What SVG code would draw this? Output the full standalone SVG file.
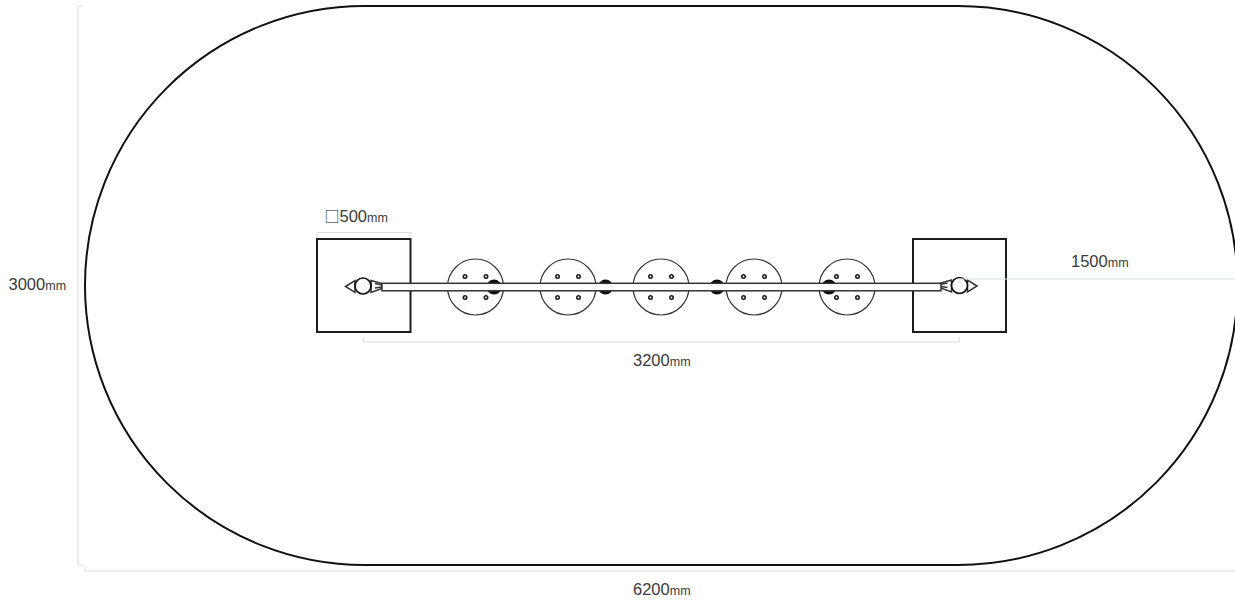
<svg xmlns="http://www.w3.org/2000/svg" width="1235" height="600" viewBox="0 0 1235 600">
<style>
text{font-family:"Liberation Sans",Arial,"Noto Sans CJK JP",sans-serif;font-size:16.5px;fill:#3a3a3a}
.u{font-size:12.5px}
.sq{font-family:"Noto Sans CJK JP","Liberation Sans",sans-serif;font-size:15px;fill:#222}
.dim{fill:none;stroke:#dcdedd;stroke-width:1.1}
.pad{fill:#fff;stroke:#1c1c1c;stroke-width:2}
.disc{fill:#fff;stroke:#333;stroke-width:1.2}
.hole{fill:#fff;stroke:#1c1c1c;stroke-width:1.6}
.blob{fill:#0c0c0c}
.tri{fill:#fff;stroke:#333;stroke-width:1.5}
</style>
<defs>
<g id="d">
<circle class="disc" r="28"/>
<circle class="hole" cx="-10.5" cy="-10.5" r="1.7"/>
<circle class="hole" cx="10.5" cy="-10.5" r="1.7"/>
<circle class="hole" cx="-10.5" cy="10.5" r="1.7"/>
<circle class="hole" cx="10.5" cy="10.5" r="1.7"/>
</g>
<g id="end">
<path class="tri" d="M-17.5 0.500L-8 -5.500V6.500Z"/>
<path class="tri" d="M8 -5.500L19 -2.500V2.500L8 6.500Z"/>
<path d="M12 -2.500L19 -1M12 2L19 1" fill="none" stroke="#333" stroke-width="1.500"/>
<circle r="8" fill="#fff" stroke="#111" stroke-width="1.700"/>
</g>
</defs>
<g id="boundary"><rect x="85" y="6" width="1152.500" height="559" rx="279.500" ry="279.500" fill="none" stroke="#111" stroke-width="2"/></g>
<g id="pad-left"><rect class="pad" x="317" y="239" width="93.500" height="93"/></g>
<g id="pad-right"><rect class="pad" x="913" y="239" width="93" height="93"/></g>
<g id="disc-1"><use href="#d" x="475.500" y="287"/></g>
<g id="disc-2"><use href="#d" x="568" y="287"/></g>
<g id="disc-3"><use href="#d" x="661" y="287"/></g>
<g id="disc-4"><use href="#d" x="754" y="287"/></g>
<g id="disc-5"><use href="#d" x="847" y="287"/></g>
<g id="posts">
<circle class="blob" cx="494" cy="287" r="7.500"/>
<circle class="blob" cx="605.500" cy="287" r="7.500"/>
<circle class="blob" cx="717" cy="287" r="7.500"/>
<circle class="blob" cx="829" cy="287" r="7.500"/>
</g>
<g id="end-left"><use href="#end" x="363" y="286"/></g>
<g id="end-right"><use href="#end" transform="translate(959.500 285.500) scale(-1 1)"/></g>
<g id="bar"><rect x="382" y="283.300" width="559" height="7.500" fill="#fff" stroke="#333" stroke-width="1.500"/></g>
<g id="connectors">
<path id="dim-height" class="dim" d="M83 6H78V565H83"/>
<path id="dim-width" class="dim" d="M85 565V571H1235"/>
<path id="dim-pad" class="dim" d="M317 237V232.500H411V237"/>
<path id="dim-span" class="dim" d="M363.500 337V342H959.500V337"/>
<path id="dim-radius" class="dim" d="M960 284V279H1235"/>
</g>
<g id="labels">
<text x="324.500" y="222"><tspan class="sq">□</tspan><tspan dx="0">500</tspan><tspan class="u">mm</tspan></text>
<text x="8.500" y="289.500">3000<tspan class="u">mm</tspan></text>
<text x="1071" y="266.500">1500<tspan class="u">mm</tspan></text>
<text x="633" y="365.500">3200<tspan class="u">mm</tspan></text>
<text x="633" y="595">6200<tspan class="u">mm</tspan></text>
</g>
</svg>
